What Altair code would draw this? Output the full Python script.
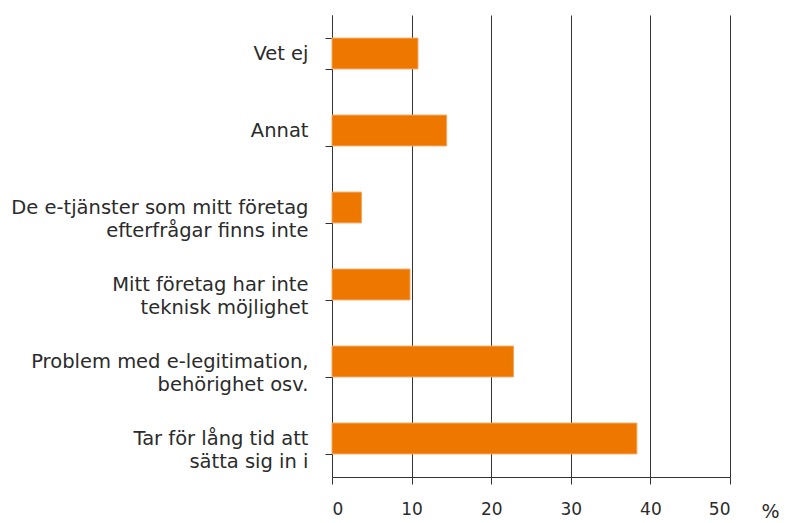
import altair as alt
import pandas as pd

categories = [
    "Vet ej",
    "Annat",
    "De e-tjänster som mitt företag|efterfrågar finns inte",
    "Mitt företag har inte|teknisk möjlighet",
    "Problem med e-legitimation,|behörighet osv.",
    "Tar för lång tid att|sätta sig in i",
]
values = [10.8, 14.4, 3.7, 9.8, 22.8, 38.3]
x_ticks = [0, 10, 20, 30, 40, 50]

df = pd.DataFrame({"kategori": categories, "procent": values})

font = "DejaVu Sans"
txt = "#2b2b2b"
line = "#333333"

chart = (
    alt.Chart(df)
    .mark_bar(color="#EE7700", stroke="#F5A45C", strokeWidth=1)
    .encode(
        x=alt.X(
            "procent:Q",
            scale=alt.Scale(domain=[0, 50], nice=False),
            axis=alt.Axis(
                values=x_ticks,
                title="%",
                titleAngle=0,
                titleAlign="left",
                titleBaseline="middle",
                titleX=429,
                titleY=34,
                titleFont=font,
                titleFontSize=19,
                titleFontWeight="normal",
                titleColor=txt,
                labelFont=font,
                labelFontSize=17,
                labelColor=txt,
                labelPadding=17,
                tickSize=7,
                tickColor=line,
                domainColor=line,
                grid=True,
                gridColor=line,
                gridWidth=1,
                gridOpacity=1,
            ),
        ),
        y=alt.Y(
            "kategori:N",
            sort=categories,
            scale=alt.Scale(paddingInner=0.6, paddingOuter=0.3),
            axis=alt.Axis(
                title=None,
                labelExpr="split(datum.label, '|')",
                labelFont=font,
                labelFontSize=19.5,
                labelColor=txt,
                labelLineHeight=23,
                labelPadding=17,
                labelAlign="right",
                tickBand="extent",
                tickSize=7,
                tickColor=line,
                domainColor=line,
                grid=False,
                labelLimit=400,
            ),
        ),
    )
    .properties(
        width=398,
        height=462,
        autosize=alt.AutoSizeParams(type="none"),
        padding={"left": 324, "top": 7, "right": 52, "bottom": 43},
    )
    .configure_view(stroke=None)
)

chart.save("out.html", embed_options={"renderer": "svg", "actions": False})
